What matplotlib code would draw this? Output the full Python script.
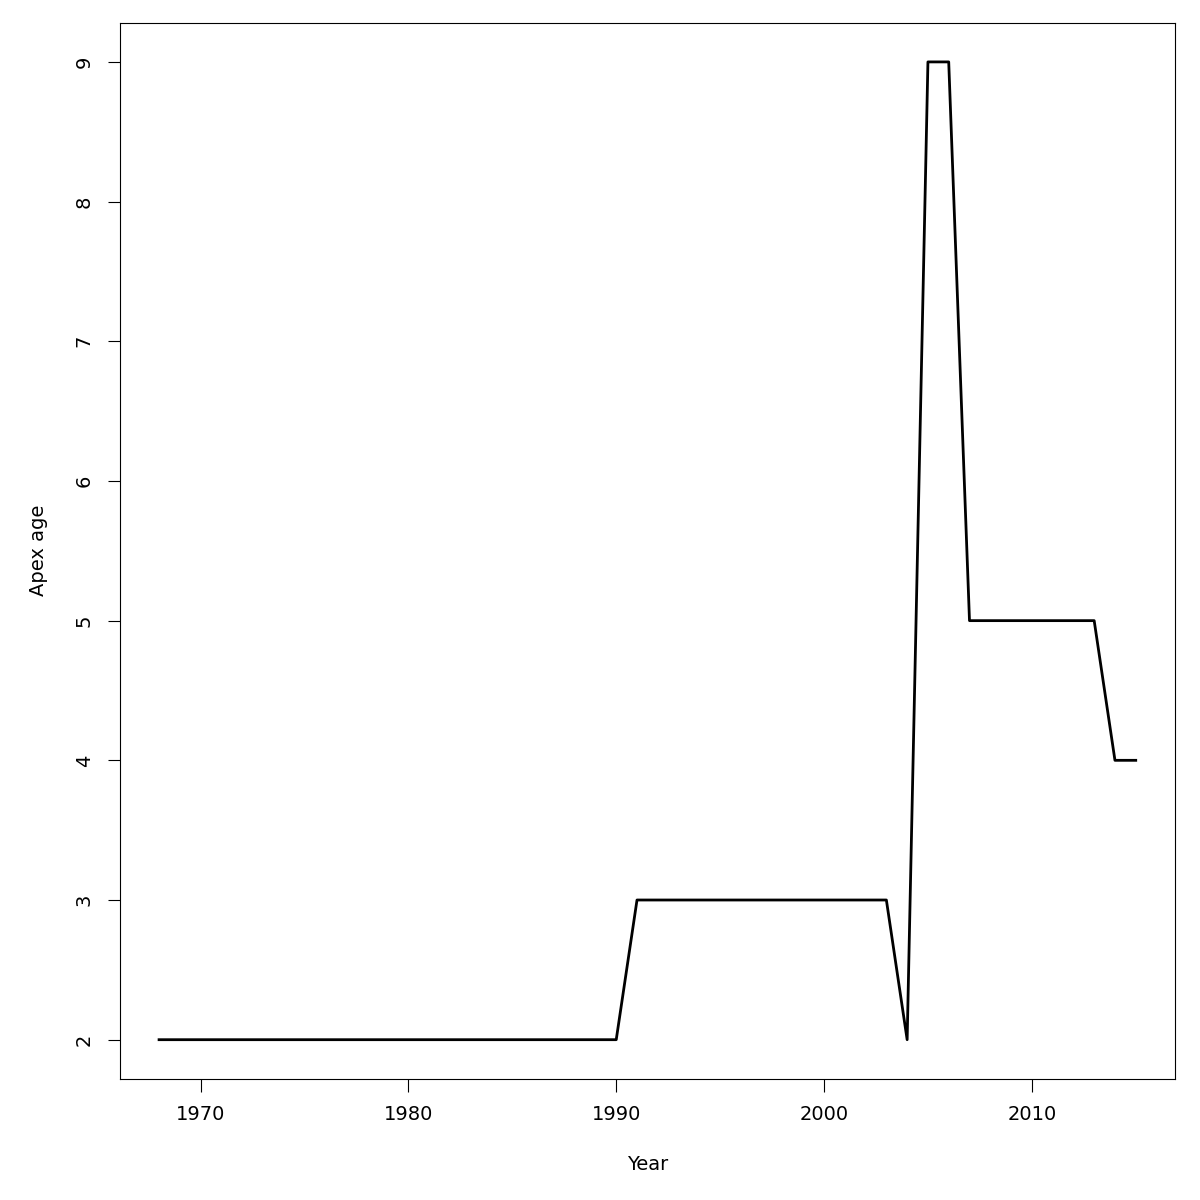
import matplotlib
matplotlib.use("Agg")
import matplotlib.pyplot as plt

# apex age per year
years = list(range(1968, 2016))
apex_age = ([2] * 23          # 1968-1990
            + [3] * 13        # 1991-2003
            + [2]             # 2004
            + [9] * 2         # 2005-2006
            + [5] * 7         # 2007-2013
            + [4] * 2)        # 2014-2015
x_ticks = [1970, 1980, 1990, 2000, 2010]
y_ticks = [2, 3, 4, 5, 6, 7, 8, 9]

fig = plt.figure(figsize=(12, 12), dpi=100)
ax = fig.add_axes([0.1, 0.101, 0.879, 0.880])
ax.plot(years, apex_age, color="black", linewidth=2)

# R-style 4% padding
xr = years[-1] - years[0]
yr = max(apex_age) - min(apex_age)
ax.set_xlim(years[0] - 0.04 * xr, years[-1] + 0.04 * xr)
ax.set_ylim(min(apex_age) - 0.04 * yr, max(apex_age) + 0.04 * yr)

ax.set_xticks(x_ticks)
ax.set_yticks(y_ticks)
ax.tick_params(direction="out", length=9, width=0.8, labelsize=14, pad=10)
for lbl in ax.get_yticklabels():
    lbl.set_rotation(90)
    lbl.set_va("center")

for s in ax.spines.values():
    s.set_linewidth(0.8)

ax.set_xlabel("Year", fontsize=14, labelpad=22)
ax.set_ylabel("Apex age", fontsize=14, labelpad=19)

fig.savefig("out.png", dpi=100)
